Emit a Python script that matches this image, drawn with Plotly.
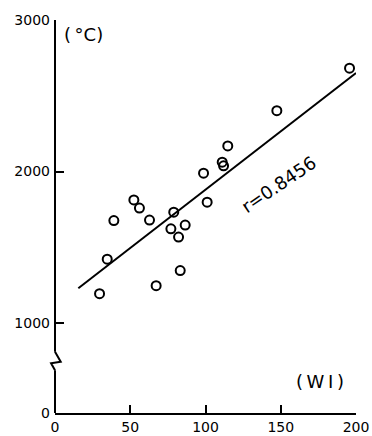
import plotly.graph_objects as go

# Data
wi = [29.6, 34.7, 39.1, 52.4, 56.1, 62.8, 67.2, 77.0, 78.9, 82.1, 83.2, 86.5,
      98.7, 101.1, 111.1, 112.0, 114.8, 147.4, 195.7]
temp = [1194, 1422, 1677, 1813, 1759, 1680, 1247, 1622, 1732, 1568, 1347, 1647,
        1989, 1798, 2062, 2038, 2169, 2402, 2682]
fit_x = [15.5, 200]
fit_y = [1230, 2650]

x_ticks = [0, 50, 100, 150, 200]
y_tickvals = [407, 1000, 2000, 3000]
y_ticktext = ["0", "1000", "2000", "3000"]

FONT = "DejaVu Sans, Liberation Sans, sans-serif"

fig = go.Figure()
fig.add_trace(go.Scatter(x=fit_x, y=fit_y, mode="lines",
                         line=dict(color="black", width=2), hoverinfo="skip"))
fig.add_trace(go.Scatter(x=wi, y=temp, mode="markers",
                         marker=dict(symbol="circle-open", size=9, color="black",
                                     line=dict(width=2, color="black"))))

fig.update_layout(
    width=372, height=436, autosize=False,
    margin=dict(l=55, r=16, t=20, b=23),
    paper_bgcolor="white", plot_bgcolor="white",
    showlegend=False,
    font=dict(family=FONT, size=14, color="black"),
    xaxis=dict(range=[0, 200], tickvals=x_ticks, ticks="inside", ticklen=8,
               tickwidth=1.5, tickcolor="black", showline=True, linecolor="black",
               linewidth=2, showgrid=False, zeroline=False, automargin=False,
               tickfont=dict(size=14, family=FONT)),
    yaxis=dict(range=[407, 3000], tickvals=y_tickvals, ticktext=y_ticktext,
               ticks="inside", ticklen=9, tickwidth=1.5, tickcolor="black",
               showline=False, showgrid=False, zeroline=False, automargin=False,
               tickfont=dict(size=14, family=FONT), ticklabelstandoff=4),
)

# broken y axis drawn as segments with a zigzag
fig.add_shape(type="line", xref="paper", yref="paper", x0=0, x1=0, y0=1, y1=0.156,
              line=dict(color="black", width=2))
fig.add_shape(type="line", xref="paper", yref="paper", x0=0, x1=0, y0=0.109, y1=0,
              line=dict(color="black", width=2))
fig.add_shape(type="path", xref="paper", yref="paper",
              path="M 0 0.156 L 0.019 0.1305 L -0.013 0.1265 L 0 0.109",
              line=dict(color="black", width=2))

fig.add_annotation(text="(\u2009°C)", xref="paper", yref="paper", x=0.022, y=0.995,
                   xanchor="left", yanchor="top", showarrow=False,
                   font=dict(size=18, family=FONT))
fig.add_annotation(text="(\u2009W\u2009I\u2009)", xref="paper", yref="paper", x=0.968, y=0.08,
                   xanchor="right", yanchor="middle", showarrow=False,
                   font=dict(size=18, family=FONT))
fig.add_annotation(text="r=0.8456", x=148.5, y=1915, showarrow=False, textangle=-34,
                   font=dict(size=18, family=FONT))

fig.write_html("out.html",
               config={"displayModeBar": False, "responsive": False},
               post_script="document.body.style.margin='0';document.body.style.overflow='hidden';")
